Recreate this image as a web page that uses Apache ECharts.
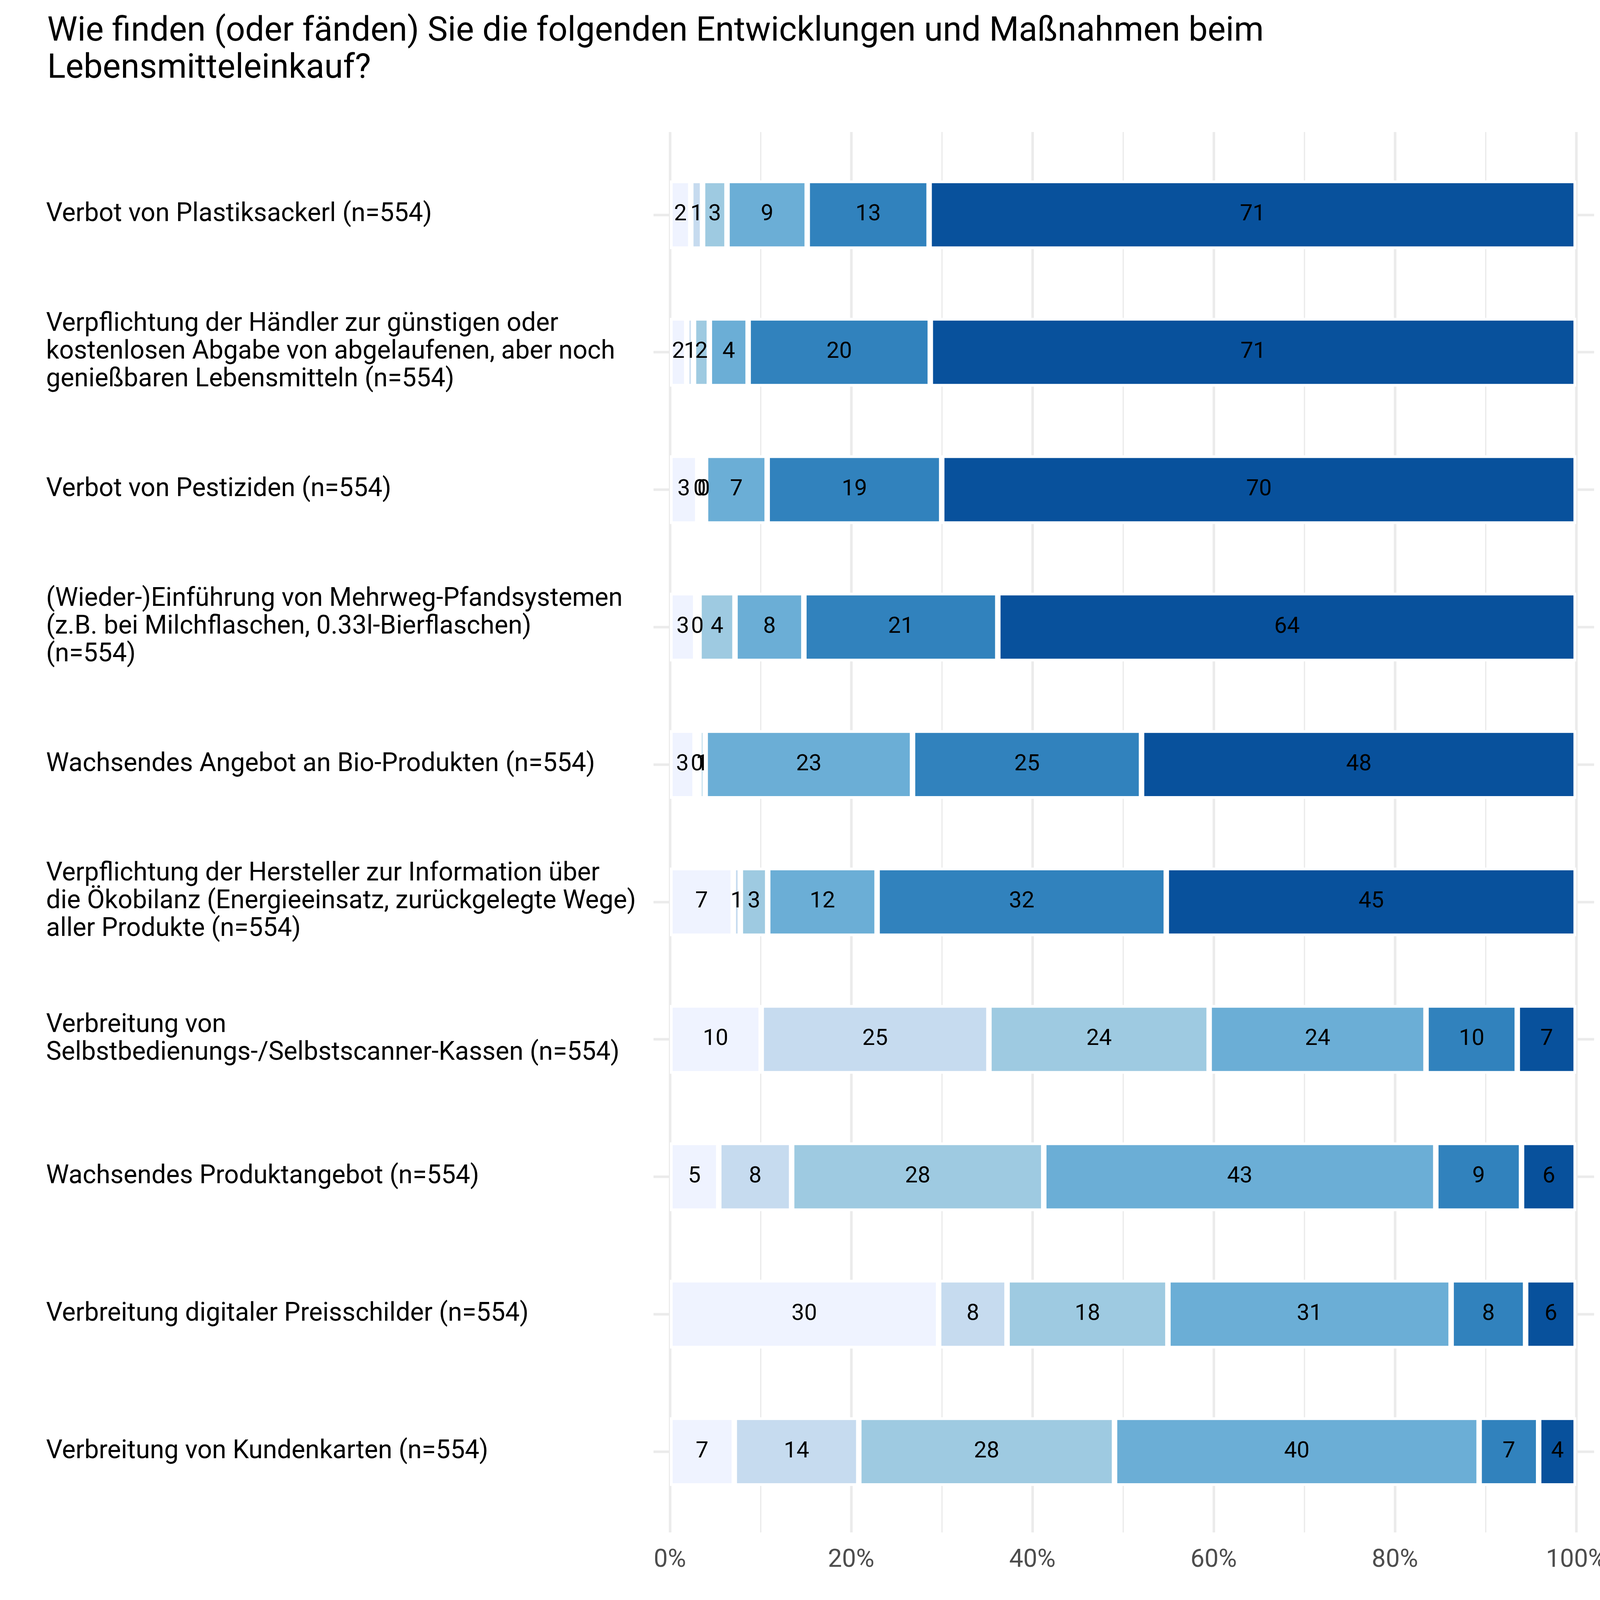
<!DOCTYPE html>
<html>
<head>
<meta charset="utf-8">
<script src="https://cdn.jsdelivr.net/npm/echarts@6/dist/echarts.min.js"></script>
<style>
  html, body { margin: 0; padding: 0; background: #fff; }
  #chart { width: 4200px; height: 4500px; }
</style>
</head>
<body>
<div id="chart"></div>
<script>
// Kategorien (von oben nach unten)
const categories = [
  'Verbot von Plastiksackerl (n=554)',
  'Verpflichtung der Händler zur günstigen oder\nkostenlosen Abgabe von abgelaufenen, aber noch\ngenießbaren Lebensmitteln (n=554)',
  'Verbot von Pestiziden (n=554)',
  '(Wieder-)Einführung von Mehrweg-Pfandsystemen\n(z.B. bei Milchflaschen, 0.33l-Bierflaschen)\n(n=554)',
  'Wachsendes Angebot an Bio-Produkten (n=554)',
  'Verpflichtung der Hersteller zur Information über\ndie Ökobilanz (Energieeinsatz, zurückgelegte Wege)\naller Produkte (n=554)',
  'Verbreitung von\nSelbstbedienungs-/Selbstscanner-Kassen (n=554)',
  'Wachsendes Produktangebot (n=554)',
  'Verbreitung digitaler Preisschilder (n=554)',
  'Verbreitung von Kundenkarten (n=554)'
];

// Antwortstufen
const levels = ['(keine Antwort)', 'sehr negativ', 'eher negativ', 'teils/teils', 'eher positiv', 'sehr positiv'];
const colors = ['#EFF3FF', '#C6DBEF', '#9ECAE1', '#6BAED6', '#3182BD', '#08519C'];

// Anteile in % je Stufe
const keineAntwort = [2.3, 1.86, 3.07, 2.84, 2.77, 6.99, 10.07, 5.39, 29.65, 7.1];
const sehrNegativ  = [1.3, 0.74, 0.43, 0.37, 0.45, 0.78, 25.13, 8.04, 7.55, 13.74];
const eherNegativ  = [2.7, 1.75, 0.43, 3.97, 0.67, 3.02, 24.3, 27.82, 17.75, 28.22];
const teilsTeils   = [8.85, 4.28, 6.8, 7.6, 22.88, 12.07, 23.93, 43.26, 31.25, 40.23];
const eherPositiv  = [13.45, 20.1, 19.26, 21.4, 25.27, 31.91, 10.07, 9.46, 8.22, 6.57];
const sehrPositiv  = [71.4, 71.27, 70.01, 63.82, 47.96, 45.23, 6.5, 6.03, 5.58, 4.14];

const xTicks = [0, 20, 40, 60, 80, 100];

const values = [keineAntwort, sehrNegativ, eherNegativ, teilsTeils, eherPositiv, sehrPositiv];
const font = 'Roboto';
const grid = '#EBEBEB';

const chart = echarts.init(document.getElementById('chart'), null, { renderer: 'canvas' });

const series = levels.map(function (name, i) {
  return {
    name: name,
    type: 'bar',
    stack: 'total',
    xAxisIndex: 1,
    yAxisIndex: 1,
    barWidth: '50%',
    data: values[i],
    itemStyle: { color: colors[i], borderColor: '#fff', borderWidth: 7 },
    label: {
      show: true,
      position: 'inside',
      color: '#000',
      fontFamily: font,
      fontSize: 58,
      formatter: function (p) { return Math.round(p.value); }
    },
    emphasis: { disabled: true }
  };
});

chart.setOption({
  animation: false,
  backgroundColor: '#fff',
  title: [{
    text: 'Wie finden (oder fänden) Sie die folgenden Entwicklungen und Maßnahmen beim\nLebensmitteleinkauf?',
    left: 116,
    top: 30,
    textStyle: { fontFamily: font, fontSize: 87, lineHeight: 95, fontWeight: 'normal', color: '#000' }
  }, {
    text: 'Quelle: AK Konsummonitor',
    right: 120,
    top: 4304,
    padding: 0,
    textStyle: { fontFamily: font, fontSize: 72, lineHeight: 72, fontWeight: 'normal', color: '#000' }
  }],
  legend: {
    data: levels,
    left: 906,
    top: 4133,
    padding: 0,
    icon: 'rect',
    itemWidth: 124,
    itemHeight: 124,
    itemGap: 33,
    itemStyle: { borderWidth: 0 },
    textStyle: { fontFamily: font, fontSize: 63, color: '#000', padding: [0, 0, 0, 31] }
  },
  grid: [
    { left: 1715, right: 165, top: 338, bottom: 577 },
    { left: 1715, right: 165, top: 374, bottom: 608 }
  ],
  xAxis: [{
    gridIndex: 0,
    type: 'value',
    min: xTicks[0],
    max: xTicks[xTicks.length - 1],
    interval: 20,
    axisLine: { show: false },
    axisTick: { show: false },
    axisLabel: {
      color: '#4D4D4D', fontFamily: font, fontSize: 64, margin: 40,
      formatter: '{value}%'
    },
    splitLine: { show: true, lineStyle: { color: grid, width: 6.5 } },
    minorTick: { show: true, splitNumber: 2, length: 0 },
    minorSplitLine: { show: true, lineStyle: { color: grid, width: 3.3 } }
  }, {
    gridIndex: 1,
    type: 'value',
    min: 0,
    max: 100,
    show: false
  }],
  yAxis: [{
    gridIndex: 0,
    type: 'value',
    show: false
  }, {
    gridIndex: 1,
    type: 'category',
    inverse: true,
    data: categories,
    axisLine: { show: false },
    axisTick: { show: true, alignWithLabel: true, length: 42, lineStyle: { color: grid, width: 6.5 } },
    axisLabel: {
      interval: 0,
      align: 'left',
      margin: 1715 - 118,
      color: '#000',
      fontFamily: font,
      fontSize: 66,
      lineHeight: 71
    },
    splitLine: { show: false }
  }, {
    gridIndex: 1,
    type: 'category',
    position: 'right',
    inverse: true,
    data: categories,
    axisLine: { show: false },
    axisTick: { show: true, alignWithLabel: true, length: 46, lineStyle: { color: grid, width: 6.5 } },
    axisLabel: { show: false },
    splitLine: { show: false }
  }],
  series: series
});
</script>
</body>
</html>
